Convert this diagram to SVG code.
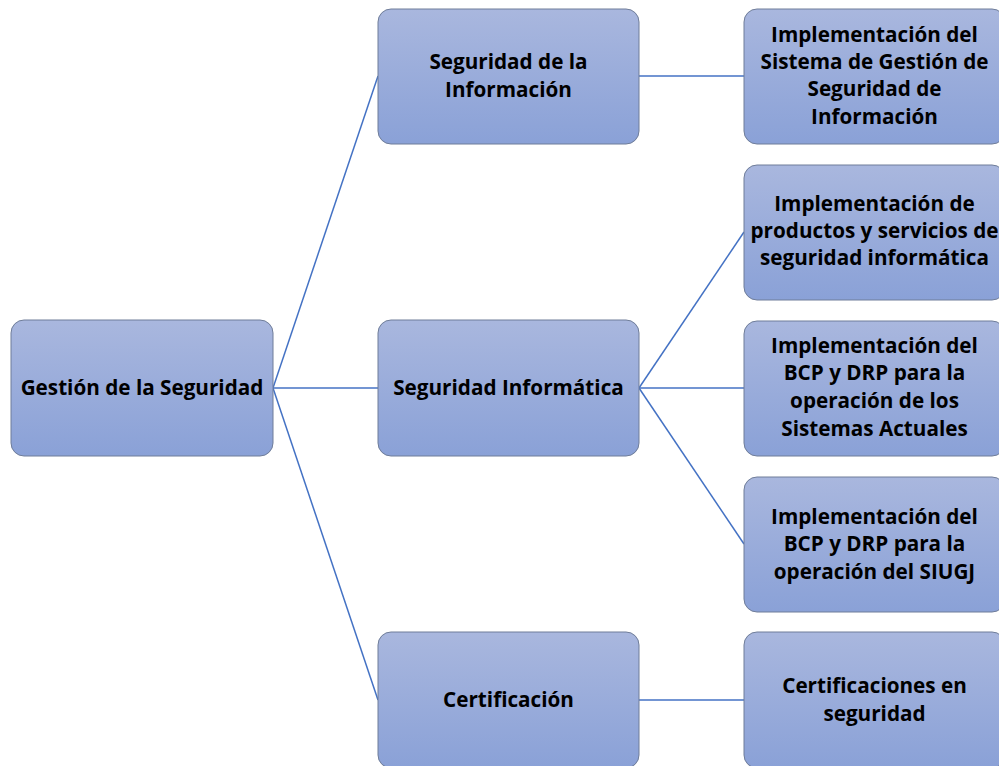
<svg xmlns="http://www.w3.org/2000/svg" width="999" height="766" viewBox="0 0 999 766">
<defs>
<linearGradient id="g" x1="0" y1="0" x2="0" y2="1">
<stop offset="0" stop-color="#a9b7de"/>
<stop offset="1" stop-color="#8aa1d7"/>
</linearGradient>
</defs>
<style>
.box{fill:url(#g);stroke:#6f7d99;stroke-width:1}
.t{font-family:"Open Sans","Noto Sans","Liberation Sans",sans-serif;font-weight:bold;font-size:20.7px;fill:#000;text-anchor:middle}
.c{stroke:#4472c4;stroke-width:1.5;fill:none}
</style>
<rect width="999" height="766" fill="#fff"/>
<g id="connectors">
<line class="c" x1="273" y1="388" x2="378" y2="76"/>
<line class="c" x1="273" y1="388" x2="378" y2="388"/>
<line class="c" x1="273" y1="388" x2="378" y2="700"/>
<line class="c" x1="639" y1="76" x2="744" y2="76"/>
<line class="c" x1="639" y1="388" x2="744" y2="232"/>
<line class="c" x1="639" y1="388" x2="744" y2="388"/>
<line class="c" x1="639" y1="388" x2="744" y2="544"/>
<line class="c" x1="639" y1="700" x2="744" y2="700"/>
</g>
<g id="root">
<rect class="box" x="11" y="320" width="262" height="136" rx="13"/>
<text class="t" x="142" y="395">Gestión de la Seguridad</text>
</g>
<g id="seg-info">
<rect class="box" x="378" y="9" width="261" height="135" rx="13"/>
<text class="t" x="508.5" y="69">Seguridad de la</text>
<text class="t" x="508.5" y="97">Información</text>
</g>
<g id="seg-informatica">
<rect class="box" x="378" y="320" width="261" height="136" rx="13"/>
<text class="t" x="508.5" y="395">Seguridad Informática</text>
</g>
<g id="certificacion">
<rect class="box" x="378" y="632" width="261" height="136" rx="13"/>
<text class="t" x="508.5" y="707">Certificación</text>
</g>
<g id="sgsi">
<rect class="box" x="744" y="9" width="261" height="135" rx="13"/>
<text class="t" x="874.5" y="42">Implementación del</text>
<text class="t" x="874.5" y="69">Sistema de Gestión de</text>
<text class="t" x="874.5" y="96">Seguridad de</text>
<text class="t" x="874.5" y="124">Información</text>
</g>
<g id="productos">
<rect class="box" x="744" y="165" width="261" height="135" rx="13"/>
<text class="t" x="874.5" y="211">Implementación de</text>
<text class="t" x="874.5" y="238">productos y servicios de</text>
<text class="t" x="874.5" y="265">seguridad informática</text>
</g>
<g id="bcp-actuales">
<rect class="box" x="744" y="321" width="261" height="135" rx="13"/>
<text class="t" x="874.5" y="353">Implementación del</text>
<text class="t" x="874.5" y="380">BCP y DRP para la</text>
<text class="t" x="874.5" y="408">operación de los</text>
<text class="t" x="874.5" y="436">Sistemas Actuales</text>
</g>
<g id="bcp-siugj">
<rect class="box" x="744" y="477" width="261" height="135" rx="13"/>
<text class="t" x="874.5" y="524">Implementación del</text>
<text class="t" x="874.5" y="551">BCP y DRP para la</text>
<text class="t" x="874.5" y="579">operación del SIUGJ</text>
</g>
<g id="cert-seg">
<rect class="box" x="744" y="632" width="261" height="136" rx="13"/>
<text class="t" x="874.5" y="693">Certificaciones en</text>
<text class="t" x="874.5" y="721">seguridad</text>
</g>
</svg>
